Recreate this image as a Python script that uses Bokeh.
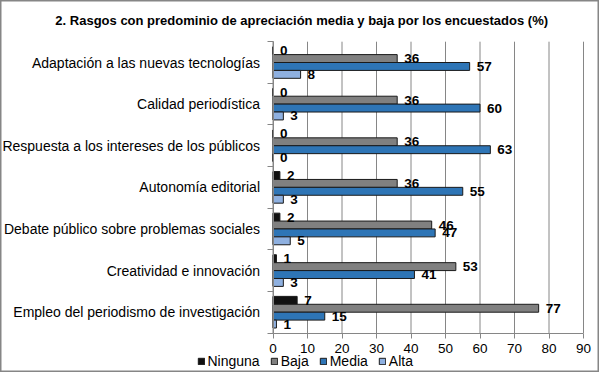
from bokeh.plotting import figure
from bokeh.models import (Range1d, FixedTicker, ColumnDataSource, LabelSet, Legend, LegendItem, Label)
from bokeh.core.properties import value
from bokeh.embed import file_html
from bokeh.resources import INLINE

categories = [
    "Adaptación a las nuevas tecnologías",
    "Calidad periodística",
    "Respuesta a los intereses de los públicos",
    "Autonomía editorial",
    "Debate público sobre problemas sociales",
    "Creatividad e innovación",
    "Empleo del periodismo de investigación",
]
series_names = ["Ninguna", "Baja", "Media", "Alta"]
ninguna = [0, 0, 0, 2, 2, 1, 7]
baja = [36, 36, 36, 36, 46, 53, 77]
media = [57, 60, 63, 55, 47, 41, 15]
alta = [8, 3, 0, 3, 5, 3, 1]
x_ticks = [0, 10, 20, 30, 40, 50, 60, 70, 80, 90]
title_text = "2. Rasgos con  predominio de apreciación media y baja por los encuestados (%)"

series_values = [ninguna, baja, media, alta]
colors = ["#111111", "#808080", "#2e75b6", "#8eb0e0"]

FONT = "Liberation Sans"
GRAY = "#868686"
W, H = 599, 372
n = len(categories)
x_max = x_ticks[-1]
centers = [n - 0.5 - i for i in range(n)]
h = 0.19

# pixel layout of the plotting area inside the canvas
PL, PR, PT, PB = 272.5, 583, 41.2, 332.5
px_x = (PR - PL) / x_max
px_y = (PB - PT) / n
x_range = Range1d(-PL / px_x, (W - PL) / px_x)
y_range = Range1d(-(H - PB) / px_y, n + PT / px_y)

p = figure(width=W, height=H, output_backend="svg", toolbar_location=None,
           x_range=x_range, y_range=y_range, min_border=0,
           min_border_left=0, min_border_right=0, min_border_top=0, min_border_bottom=0)
p.outline_line_color = GRAY
p.outline_line_width = 2
p.background_fill_color = "white"
p.border_fill_color = "white"
p.xgrid.visible = False
p.ygrid.visible = False

# vertical grid lines within the plotting area
p.segment(x0=x_ticks, x1=x_ticks, y0=[0] * len(x_ticks), y1=[n] * len(x_ticks),
          line_color=GRAY, line_width=1)

# x axis
p.xaxis.fixed_location = 0
p.xaxis.bounds = (0, x_max)
p.xaxis.ticker = FixedTicker(ticks=x_ticks)
p.xaxis.axis_line_color = GRAY
p.xaxis.major_tick_line_color = GRAY
p.xaxis.major_tick_out = 5
p.xaxis.major_tick_in = 0
p.xaxis.minor_tick_line_color = None
p.xaxis.major_label_text_font = FONT
p.xaxis.major_label_text_font_size = "13.5px"
p.xaxis.major_label_text_color = "#000000"
p.xaxis.major_label_standoff = 6

# y axis
p.yaxis.fixed_location = 0
p.yaxis.bounds = (0, n)
p.yaxis.ticker = FixedTicker(ticks=centers, minor_ticks=list(range(n + 1)))
p.yaxis.major_label_overrides = {c: categories[i] for i, c in enumerate(centers)}
p.yaxis.axis_line_color = GRAY
p.yaxis.major_tick_line_color = None
p.yaxis.minor_tick_line_color = GRAY
p.yaxis.minor_tick_out = 6
p.yaxis.minor_tick_in = 0
p.yaxis.major_label_text_font = FONT
p.yaxis.major_label_text_font_size = "14px"
p.yaxis.major_label_text_color = "#000000"
p.yaxis.major_label_standoff = 7

items = []
for k, (name, vals, col) in enumerate(zip(series_names, series_values, colors)):
    ys = [c + (1.5 - k) * h for c in centers]
    src = ColumnDataSource(dict(y=ys, v=vals, lab=[str(v) for v in vals]))
    r = p.hbar(y="y", right="v", left=0, height=h, source=src, fill_color=col,
               line_color="#1a1a1a", line_width=1)
    items.append(LegendItem(label=name, renderers=[r]))
    labels = LabelSet(x="v", y="y", text="lab", source=src, x_offset=7, y_offset=0,
                      text_font=value(FONT), text_font_size=value("13.5px"),
                      text_font_style=value("bold"), text_color=value("#000000"),
                      text_baseline=value("middle"), text_align=value("left"))
    p.add_layout(labels)

title = Label(x=303, y=H - 20, x_units="screen", y_units="screen", text=title_text,
              text_font=FONT, text_font_size="13px", text_font_style="bold",
              text_color="#000000", text_align="center", text_baseline="middle")
p.add_layout(title)

legend = Legend(items=items, orientation="horizontal", location=(196.5, 3),
                label_text_font=FONT, label_text_font_size="14px", label_text_color="#000000",
                glyph_width=8, glyph_height=8, label_standoff=3, spacing=10,
                padding=0, margin=0, border_line_color=None, background_fill_alpha=0,
                label_height=14)
p.add_layout(legend, "center")

open("out.html", "w").write(file_html(p, INLINE))
